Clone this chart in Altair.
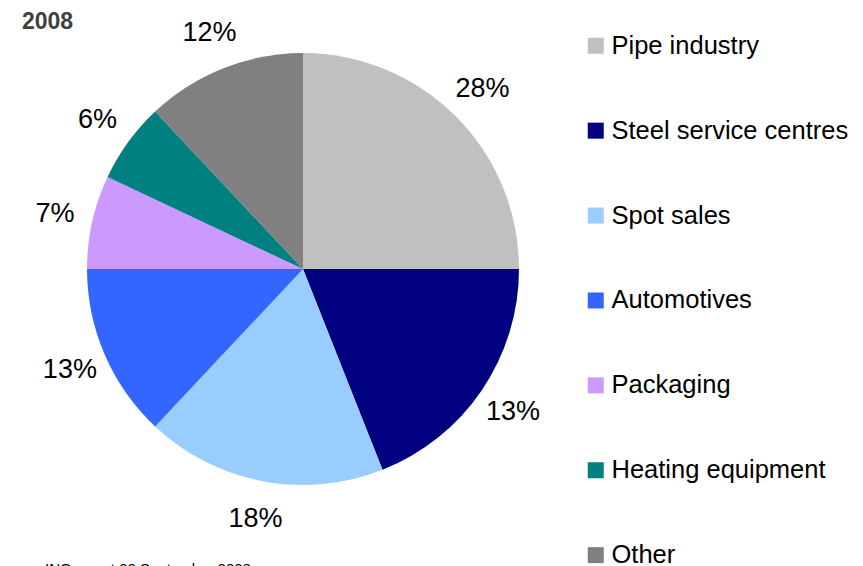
import altair as alt
import pandas as pd

categories = ["Pipe industry", "Steel service centres", "Spot sales", "Automotives",
              "Packaging", "Heating equipment", "Other"]
# slice sizes as drawn (degrees / 3.6)
shares = [25, 19, 18, 13, 7, 6, 12]
# labels as printed on the chart
labels = ["28%", "13%", "18%", "13%", "7%", "6%", "12%"]
colors = ["#C0C0C0", "#000080", "#99CCFF", "#3366FF", "#CC99FF", "#008080", "#808080"]
title_text = "2008"
footer_text = "ING report 30 September 2008"

df = pd.DataFrame({"category": categories, "share": shares, "label": labels,
                   "order": list(range(len(categories)))})

CX, CY, R = 295, 261, 216
FONT = "Liberation Sans"

base = alt.Chart(df).encode(
    theta=alt.Theta("share:Q", stack=True),
    order=alt.Order("order:Q"),
)

pie = base.mark_arc(radius=R, strokeWidth=0).encode(
    x=alt.value(CX), y=alt.value(CY),
    color=alt.Color(
        "category:N",
        sort=categories,
        scale=alt.Scale(domain=categories, range=colors),
        legend=alt.Legend(
            title=None, orient="none", legendX=575, legendY=25,
            symbolType="square", symbolSize=256, symbolStrokeWidth=0,
            labelFont=FONT, labelFontSize=25.5, labelColor="black",
            labelOffset=3, rowPadding=57.9, labelLimit=400,
        ),
    ),
)

text = base.mark_text(radius=254, font=FONT, fontSize=27, color="black").encode(
    x=alt.value(CX), y=alt.value(CY),
    text="label:N",
)

title = alt.Chart(pd.DataFrame({"t": [title_text]})).mark_text(
    font=FONT, fontSize=23, fontWeight="bold", color="#404040", align="left", baseline="middle"
).encode(x=alt.value(14), y=alt.value(14), text="t:N")

footer = alt.Chart(pd.DataFrame({"t": [footer_text]})).mark_text(
    font=FONT, fontSize=15, color="black", align="left", baseline="alphabetic"
).encode(x=alt.value(37), y=alt.value(566), text="t:N")

chart = alt.layer(pie, text, title, footer).properties(
    width=847, height=560,
    autosize=alt.AutoSizeParams(type="none"),
    padding=0,
).configure_view(stroke=None)

chart.save("out.html", embed_options={"renderer": "svg", "actions": False})
